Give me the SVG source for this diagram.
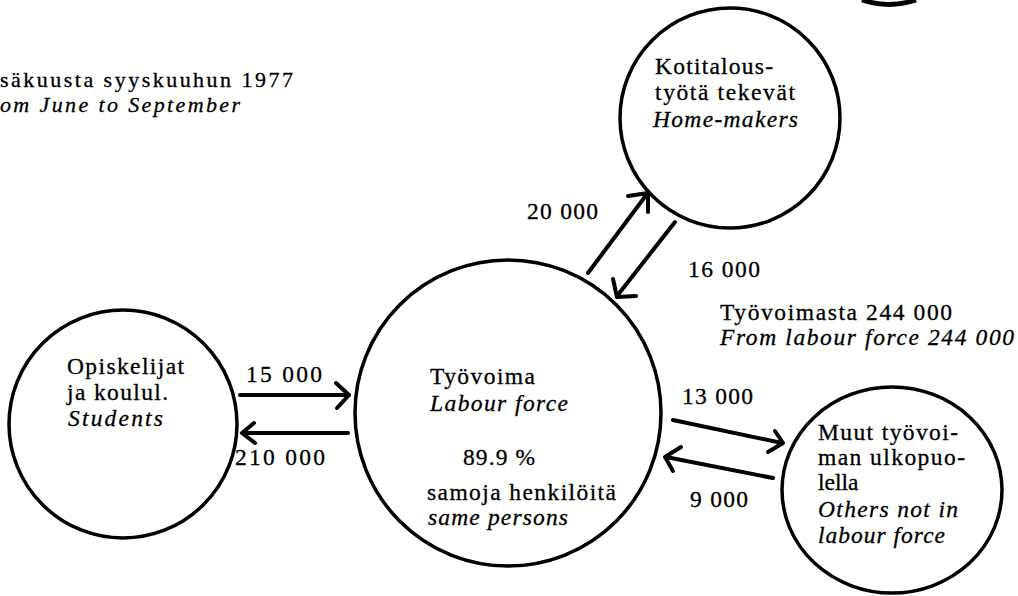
<svg xmlns="http://www.w3.org/2000/svg" width="1018" height="596" viewBox="0 0 1018 596">
<style>
  .node { fill: none; stroke: #000; stroke-width: 3.5; }
  .conn { fill: none; stroke: #000; stroke-width: 4; stroke-linecap: round; stroke-linejoin: round; }
  text { font-family: "Liberation Serif", "DejaVu Serif", serif; font-size: 23.5px; fill: #000; stroke: #000; stroke-width: 0.3; }
  .it { font-style: italic; }
  .ttl { font-size: 22px; }
</style>
<rect width="1018" height="596" fill="#fff"/>

<!-- partial shape at top right edge -->
<path d="M862,0 Q889,9 916,0" fill="none" stroke="#000" stroke-width="5"/>

<!-- title fragment -->
<g id="title">
  <text class="ttl" x="0" y="87" textLength="293" lengthAdjust="spacing">säkuusta syyskuuhun 1977</text>
  <text class="ttl it" x="0" y="112" textLength="240" lengthAdjust="spacing">om June to September</text>
</g>

<g id="node-homemakers">
  <circle class="node" cx="730" cy="118" r="110"/>
  <text x="655" y="74" textLength="118" lengthAdjust="spacing">Kotitalous-</text>
  <text x="655" y="100" textLength="140" lengthAdjust="spacing">työtä tekevät</text>
  <text class="it" x="653" y="127" textLength="145" lengthAdjust="spacing">Home-makers</text>
</g>

<g id="node-students">
  <circle class="node" cx="123" cy="424" r="114"/>
  <text x="67" y="374" textLength="117" lengthAdjust="spacing">Opiskelijat</text>
  <text x="67" y="400" textLength="101" lengthAdjust="spacing">ja koulul.</text>
  <text class="it" x="68" y="426" textLength="95" lengthAdjust="spacing">Students</text>
</g>

<g id="node-labour">
  <circle class="node" cx="508" cy="413" r="153"/>
  <text x="430" y="384" textLength="105" lengthAdjust="spacing">Työvoima</text>
  <text class="it" x="430" y="411" textLength="138" lengthAdjust="spacing">Labour force</text>
  <text x="463" y="465" textLength="72" lengthAdjust="spacing">89.9 %</text>
  <text x="427" y="500" textLength="189" lengthAdjust="spacing">samoja henkilöitä</text>
  <text class="it" x="428" y="525" textLength="140" lengthAdjust="spacing">same persons</text>
</g>

<g id="node-others">
  <ellipse class="node" cx="892" cy="490" rx="110" ry="103"/>
  <text x="818" y="440" textLength="140" lengthAdjust="spacing">Muut työvoi-</text>
  <text x="818" y="465" textLength="147" lengthAdjust="spacing">man ulkopuo-</text>
  <text x="818" y="490">lella</text>
  <text class="it" x="818" y="517" textLength="140" lengthAdjust="spacing">Others not in</text>
  <text class="it" x="818" y="543" textLength="127" lengthAdjust="spacing">labour force</text>
</g>

<g id="connectors">
  <!-- Students -> Labour -->
  <path class="conn" d="M240,395 L349,395"/>
  <path class="conn" d="M336,383 L349,395 L337,408"/>
  <!-- Labour -> Students -->
  <path class="conn" d="M348,433 L243,433"/>
  <path class="conn" d="M254,423 L242,433 L255,443"/>
  <!-- Labour -> Home-makers -->
  <path class="conn" d="M588,273 L647,194"/>
  <path class="conn" d="M628,196 L648,193 L648,212"/>
  <!-- Home-makers -> Labour -->
  <path class="conn" d="M675,222 L617,296"/>
  <path class="conn" d="M613,279 L617,297 L636,296"/>
  <!-- Labour -> Others -->
  <path class="conn" d="M673,420 L782,443"/>
  <path class="conn" d="M775,431 L783,443 L768,452"/>
  <!-- Others -> Labour -->
  <path class="conn" d="M773,478 L666,457"/>
  <path class="conn" d="M681,447 L665,457 L673,471"/>
</g>

<g id="labels">
  <text x="246" y="382" textLength="76" lengthAdjust="spacing">15 000</text>
  <text x="235" y="465" textLength="90" lengthAdjust="spacing">210 000</text>
  <text x="527" y="219" textLength="71" lengthAdjust="spacing">20 000</text>
  <text x="688" y="277" textLength="72" lengthAdjust="spacing">16 000</text>
  <text x="720" y="320" textLength="232" lengthAdjust="spacing">Työvoimasta 244 000</text>
  <text class="it" x="720" y="345" textLength="294" lengthAdjust="spacing">From labour force 244 000</text>
  <text x="682" y="404" textLength="71" lengthAdjust="spacing">13 000</text>
  <text x="690" y="507" textLength="58" lengthAdjust="spacing">9 000</text>
</g>
</svg>
